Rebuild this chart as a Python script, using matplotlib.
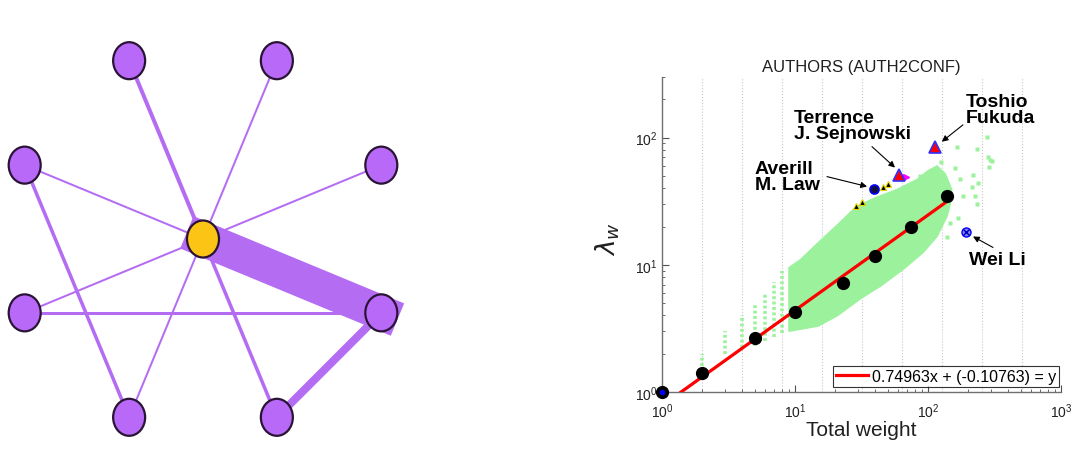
import numpy as np
import matplotlib.pyplot as plt
from matplotlib.patches import Ellipse, Polygon
from matplotlib.ticker import LogLocator, NullFormatter

plt.rcParams['font.family'] = ['Liberation Sans', 'DejaVu Sans']

# ---- left panel: weighted ego network, ring of 8 alters around the ego ----
ring_angle = [22.5, 67.5, 112.5, 157.5, 202.5, 247.5, 292.5, 337.5]  # degrees
# edges: -1 is the ego, 0..7 the ring nodes; weight = drawn width in px
edge_src = [-1, -1, -1, -1, -1, -1, -1, -1, 3, 4, 7]
edge_dst = [7, 2, 1, 3, 0, 4, 5, 6, 5, 7, 6]
edge_weight = [35, 4, 2, 2, 2, 2, 2, 3.5, 3.5, 3, 8]

# ---- right panel: lambda_w vs total weight (log-log) ----
bin_x = [1, 2, 5, 10, 23, 40, 75, 139]
bin_y = [1, 1.41, 2.65, 4.24, 7.16, 11.7, 20, 35]
fit_slope = 0.74963
fit_icpt = -0.10763

# dense green cloud outline
cloud_x = [9, 11, 15, 21, 29, 41, 58, 83, 100, 117, 135, 151, 147, 139, 117, 92, 65, 44, 31, 21, 15, 9]
cloud_y = [9.5, 11, 15, 20.8, 28.8, 34, 39, 47, 55, 60, 52, 39, 30, 24, 16.7, 12.5, 9.2, 6.8, 5.4, 4.0, 3.3, 3.0]
# sparse columns at small weights
col_x = [2, 3, 4, 5, 6, 7, 8]
col_lo = [1.6, 2.0, 2.2, 2.3, 2.5, 2.7, 2.9]
col_hi = [2.0, 3.0, 4.0, 5.0, 6.0, 7.3, 9.0]
# scattered outliers
out_x = [277, 282, 290, 238, 225, 183, 168, 164, 147, 139, 303, 233, 292, 218, 214, 233, 125, 87, 160, 175]
out_y = [101, 70, 59, 44, 34.5, 34.5, 23.5, 85, 21.5, 16.7, 65, 81, 67, 51, 41, 30, 64, 50, 58, 47]

fukuda = (113, 85)
sejnowski = (60.5, 51)
sejnowski2 = (68, 49)
law = (39.3, 39.8)
law_near_x = [50, 46, 31.9, 29]
law_near_y = [43.6, 40.6, 31, 29]
weili = (193, 18)

fig = plt.figure(figsize=(10.8, 4.6), dpi=100)

# ----- network -----
axn = fig.add_axes([0, 0, 420 / 1080, 1])
axn.set_xlim(0, 420)
axn.set_ylim(460, 0)
axn.axis('off')

cx, cy, rad = 203, 240, 193
pos = {-1: (cx, cy)}
for i, a in enumerate(ring_angle):
    pos[i] = (cx + rad * np.cos(np.radians(a)), cy - rad * np.sin(np.radians(a)))

for s, d, w in zip(edge_src, edge_dst, edge_weight):
    (x0, y0), (x1, y1) = pos[s], pos[d]
    cap = 'projecting' if w > 20 else 'butt'
    axn.plot([x0, x1], [y0, y1], color='#b46cf3', lw=w * 0.72,
             solid_capstyle=cap, zorder=1)

for k, (x, y) in pos.items():
    fc = '#fcc515' if k == -1 else '#b869f7'
    axn.add_patch(Ellipse((x, y), 32, 37, facecolor=fc, edgecolor='#2a1436',
                          lw=1.6, zorder=3))

# ----- scatter -----
ax = fig.add_axes([662 / 1080, 67 / 460, 399 / 1080, 315 / 460])
ax.set_xscale('log')
ax.set_yscale('log')
ax.set_xlim(1, 1000)
ax.set_ylim(1, 300)

for g in 2.0 ** np.arange(1, 10):
    ax.axvline(g, color='#c8c8c8', lw=0.8, ls=':', zorder=0)

green = '#9cf29c'
ax.add_patch(Polygon(list(zip(cloud_x, cloud_y)), closed=True, facecolor=green,
                     edgecolor=green, lw=1, zorder=1))
ax.vlines(col_x, col_lo, col_hi, colors=green, lw=2.6, linestyles=(0, (0.8, 0.7)), zorder=1)
ax.plot(out_x, out_y, 's', color=green, ms=2.5, mec='none', zorder=1)

xf = np.array([1, bin_x[-1]])
ax.plot(xf, 10 ** (fit_slope * np.log10(xf) + fit_icpt), color='red', lw=2.3,
        zorder=3, label='0.74963x + (-0.10763) = y')
ax.plot(bin_x, bin_y, 'o', color='black', ms=8.5, zorder=4, clip_on=False)
ax.plot([1], [1], 'o', color='blue', ms=3, zorder=5, clip_on=False)

ax.plot(*fukuda, '^', mfc='red', mec='#3030ff', mew=1.2, ms=9, zorder=5)
ax.plot(*sejnowski, '^', mfc='red', mec='#3030ff', mew=1.2, ms=8, zorder=5)
ax.plot(*sejnowski2, '>', mfc='magenta', mec='magenta', ms=5, zorder=4)
ax.plot(law_near_x, law_near_y, '^', mfc='black', mec='#e8d800', mew=0.8, ms=5, zorder=4)
ax.plot(*law, 'o', mfc='#101040', mec='blue', mew=1.2, ms=6.5, zorder=5)
ax.plot(*weili, 'o', mfc='#8080ff', mec='blue', mew=1, ms=6.5, zorder=5)
ax.plot(*weili, 'x', color='#0000b0', mew=1, ms=4, zorder=6)

txt = dict(fontsize=14, fontweight='bold', ha='left', va='center', linespacing=0.95)
ax.text(193, 166, 'Toshio\nFukuda', **txt)
ax.text(9.83, 124, 'Terrence\nJ. Sejnowski', **txt)
ax.text(5.0, 49.4, 'Averill\nM. Law', **txt)
ax.text(203, 11.0, 'Wei Li', **txt)

arr = dict(arrowstyle='-|>', color='black', lw=0.8, mutation_scale=9,
           shrinkA=0, shrinkB=0)
ax.annotate('', xy=(127, 93), xytext=(183, 126), arrowprops=arr)
ax.annotate('', xy=(56.5, 58.2), xytext=(37.9, 85), arrowprops=arr)
ax.annotate('', xy=(34.8, 41.3), xytext=(17.4, 49.4), arrowprops=arr)
ax.annotate('', xy=(218, 16.7), xytext=(308, 13.7), arrowprops=arr)

for side in ('top', 'right'):
    ax.spines[side].set_visible(False)
for side in ('left', 'bottom'):
    ax.spines[side].set_color('#707070')
    ax.spines[side].set_linewidth(1.0)
ax.xaxis.set_minor_locator(LogLocator(base=10, subs=np.arange(2, 10), numticks=20))
ax.yaxis.set_minor_locator(LogLocator(base=10, subs=np.arange(2, 10), numticks=20))
ax.xaxis.set_minor_formatter(NullFormatter())
ax.yaxis.set_minor_formatter(NullFormatter())
ax.tick_params(which='both', direction='in', color='#505050', labelsize=10,
               labelcolor='#202020')
ax.tick_params(which='major', length=5)
ax.tick_params(which='minor', length=2.5)
ax.tick_params(axis='x', pad=7)
ax.tick_params(axis='y', pad=3)

ax.set_title('AUTHORS (AUTH2CONF)', fontsize=12, pad=4, color='#202020')
ax.set_xlabel('Total weight', fontsize=15, color='#202020')
ax.xaxis.set_label_coords(0.5, -0.09)
ax.set_ylabel(r'$\lambda_w$', fontsize=19, color='#202020')
ax.yaxis.set_label_coords(-0.1, 0.49)

leg = ax.legend(loc='lower right', bbox_to_anchor=(0.995, 0.016), borderaxespad=0,
                fontsize=11.5, frameon=True, fancybox=False, handlelength=2.0,
                borderpad=0.2, handletextpad=0.2)
leg.get_frame().set_edgecolor('black')
leg.get_frame().set_linewidth(0.8)

fig.savefig('out.png', dpi=100)
